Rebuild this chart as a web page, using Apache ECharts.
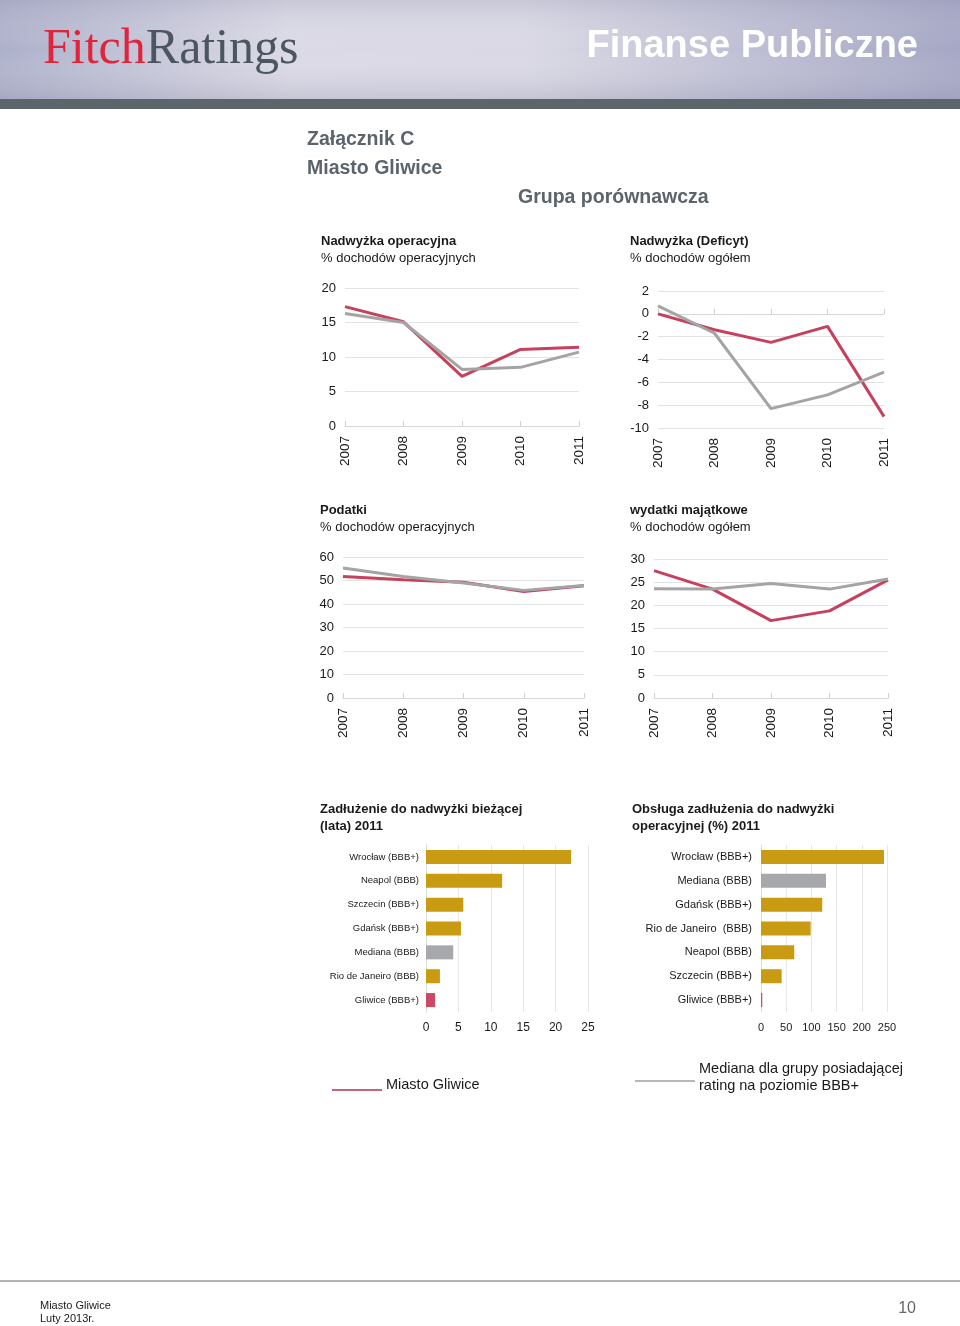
<!DOCTYPE html>
<html>
<head>
<meta charset="utf-8">
<script src="https://cdn.jsdelivr.net/npm/echarts@6/dist/echarts.min.js"></script>
<style>
html,body{margin:0;padding:0;background:#fff;}
#c{width:960px;height:1326px;}
</style>
</head>
<body>
<div id="c"></div>
<script>
// ---------- data ----------
var years = ['2007', '2008', '2009', '2010', '2011'];

var opSurplusGliwice = [17.3, 15.1, 7.2, 11.1, 11.4];
var opSurplusMedian  = [16.3, 15.0, 8.2, 8.5, 10.7];

var balanceGliwice = [0.0, -1.4, -2.5, -1.1, -9.0];
var balanceMedian  = [0.7, -1.7, -8.3, -7.1, -5.1];

var taxesGliwice = [51.7, 50.3, 49.3, 45.3, 47.8];
var taxesMedian  = [55.3, 51.7, 48.9, 45.8, 47.9];

var capexGliwice = [27.5, 23.5, 16.7, 18.8, 25.5];
var capexMedian  = [23.6, 23.5, 24.7, 23.5, 25.7];

var debtCats = ['Wrocław (BBB+)', 'Neapol (BBB)', 'Szczecin (BBB+)', 'Gdańsk (BBB+)', 'Mediana (BBB)', 'Rio de Janeiro (BBB)', 'Gliwice (BBB+)'];
var debtValues = [22.4, 11.75, 5.75, 5.4, 4.2, 2.15, 1.4];

var serviceCats = ['Wrocław (BBB+)', 'Mediana (BBB)', 'Gdańsk (BBB+)', 'Rio de Janeiro  (BBB)', 'Neapol (BBB)', 'Szczecin (BBB+)', 'Gliwice (BBB+)'];
var serviceValues = [244, 129, 121.5, 98.5, 66, 41, 2.5];

// ---------- styles ----------
var FONT = '"Liberation Sans", Arial, Helvetica, sans-serif';
var RED = '#c5415d';
var GRAY = '#a4a4a4';
var GOLD = '#c99b12';
var BARGRAY = '#a6a8ab';
var GRID_LINE = '#e3e3e3';

function barColor(name) {
  if (name.indexOf('Gliwice') === 0) return '#cc4863';
  if (name.indexOf('Mediana') === 0) return BARGRAY;
  return GOLD;
}

var lineGrids = [
  {left: 345, top: 288, width: 234, height: 138},
  {left: 658, top: 291, width: 226, height: 137},
  {left: 343, top: 557, width: 241, height: 141},
  {left: 654, top: 559, width: 234, height: 139}
];
var lineAxes = [
  {min: 0, max: 20, interval: 5},
  {min: -10, max: 2, interval: 2},
  {min: 0, max: 60, interval: 10},
  {min: 0, max: 30, interval: 5}
];
var lineData = [
  [opSurplusGliwice, opSurplusMedian],
  [balanceGliwice, balanceMedian],
  [taxesGliwice, taxesMedian],
  [capexGliwice, capexMedian]
];

var grids = [], xAxes = [], yAxes = [], series = [];

lineGrids.forEach(function (g, i) {
  grids.push(g);
  xAxes.push({
    type: 'category', gridIndex: i, data: years, boundaryGap: false,
    axisLine: {show: false, onZero: false}, axisTick: {show: false},
    axisLabel: {rotate: 90, fontSize: 13.5, color: '#1a1a1a', fontFamily: FONT, margin: 10},
    splitLine: {show: false}
  });
  xAxes.push({
    type: 'category', gridIndex: i, data: years, boundaryGap: false,
    position: 'bottom',
    axisLine: {show: true, onZero: true, lineStyle: {color: '#d6d6d6', width: 1}},
    axisTick: {show: true, inside: true, length: 5, alignWithLabel: true, lineStyle: {color: '#cfcfcf'}},
    axisLabel: {show: false}, splitLine: {show: false}
  });
  yAxes.push({
    type: 'value', gridIndex: i, min: lineAxes[i].min, max: lineAxes[i].max, interval: lineAxes[i].interval,
    axisLine: {show: false}, axisTick: {show: false},
    axisLabel: {fontSize: 13, color: '#1a1a1a', fontFamily: FONT, margin: 9},
    splitLine: {show: true, lineStyle: {color: GRID_LINE, width: 1}}
  });
  series.push({
    type: 'line', xAxisIndex: i * 2, yAxisIndex: i, data: lineData[i][0],
    symbol: 'none', lineStyle: {color: RED, width: 3}, z: 3, silent: true
  });
  series.push({
    type: 'line', xAxisIndex: i * 2, yAxisIndex: i, data: lineData[i][1],
    symbol: 'none', lineStyle: {color: GRAY, width: 3}, z: 4, silent: true
  });
});

var barDefs = [
  {grid: {left: 426, top: 845, width: 162, height: 167}, cats: debtCats, vals: debtValues, max: 25, interval: 5, labelSize: 9.5, labelMargin: 7, tickSize: 12},
  {grid: {left: 761, top: 845, width: 126, height: 167}, cats: serviceCats, vals: serviceValues, max: 250, interval: 50, labelSize: 11, labelMargin: 9, tickSize: 11}
];

barDefs.forEach(function (b) {
  var gi = grids.length;
  grids.push(b.grid);
  xAxes.push({
    type: 'value', gridIndex: gi, min: 0, max: b.max, interval: b.interval,
    axisLine: {show: false}, axisTick: {show: false},
    axisLabel: {fontSize: b.tickSize, color: '#1a1a1a', fontFamily: FONT, margin: 10},
    splitLine: {show: true, lineStyle: {color: '#e6e6e6'}}
  });
  yAxes.push({
    type: 'category', gridIndex: gi, data: b.cats, inverse: true,
    axisLine: {show: true, lineStyle: {color: '#dcdcdc'}}, axisTick: {show: false},
    axisLabel: {fontSize: b.labelSize, color: '#1a1a1a', fontFamily: FONT, margin: b.labelMargin}
  });
  series.push({
    type: 'bar', xAxisIndex: xAxes.length - 1, yAxisIndex: yAxes.length - 1,
    data: b.vals, barWidth: 14, silent: true,
    itemStyle: {color: function (p) { return barColor(p.name); }}
  });
});

function txt(x, y, text, font, fill, align) {
  return {type: 'text', x: x, y: y, silent: true,
    style: {text: text, font: font, fill: fill || '#1a1a1a', align: align || 'left', verticalAlign: 'middle'}};
}

var graphics = [
  {type: 'rect', shape: {x: 0, y: 0, width: 960, height: 100}, silent: true,
    style: {fill: new echarts.graphic.LinearGradient(0, 0, 1, 0, [
      {offset: 0, color: '#adb0ca'},
      {offset: 0.3, color: '#dad9e5'},
      {offset: 0.55, color: '#d9d8e4'},
      {offset: 1, color: '#a4a6c4'}
    ])}},
  {type: 'rect', shape: {x: 0, y: 0, width: 960, height: 100}, silent: true,
    style: {fill: new echarts.graphic.LinearGradient(0, 0, 0, 1, [
      {offset: 0, color: 'rgba(150,150,180,0.25)'},
      {offset: 0.5, color: 'rgba(255,255,255,0)'},
      {offset: 1, color: 'rgba(150,150,175,0.3)'}
    ])}},
  {type: 'rect', shape: {x: 0, y: 99, width: 960, height: 10}, silent: true, style: {fill: '#5c6569'}},
  {type: 'text', x: 43, y: 50, silent: true, style: {
    text: '{a|Fitch}{b|Ratings}', verticalAlign: 'middle', align: 'left',
    rich: {
      a: {font: '50px "Liberation Serif", "Times New Roman", serif', fill: '#e0243c'},
      b: {font: '50px "Liberation Serif", "Times New Roman", serif', fill: '#4c5660'}
    }}},
  txt(918, 47, 'Finanse Publiczne', 'bold 38px ' + FONT, '#ffffff', 'right'),
  txt(307, 140, 'Załącznik C', 'bold 19.5px ' + FONT, '#5b636c'),
  txt(307, 169, 'Miasto Gliwice', 'bold 19.5px ' + FONT, '#5b636c'),
  txt(518, 198, 'Grupa porównawcza', 'bold 19.5px ' + FONT, '#5b636c'),
  txt(321, 241, 'Nadwyżka operacyjna', 'bold 13px ' + FONT),
  txt(321, 258, '% dochodów operacyjnych', '13px ' + FONT),
  txt(630, 241, 'Nadwyżka (Deficyt)', 'bold 13px ' + FONT),
  txt(630, 258, '% dochodów ogółem', '13px ' + FONT),
  txt(320, 510, 'Podatki', 'bold 13px ' + FONT),
  txt(320, 527, '% dochodów operacyjnych', '13px ' + FONT),
  txt(630, 510, 'wydatki majątkowe', 'bold 13px ' + FONT),
  txt(630, 527, '% dochodów ogółem', '13px ' + FONT),
  txt(320, 809, 'Zadłużenie do nadwyżki bieżącej', 'bold 13px ' + FONT),
  txt(320, 826, '(lata) 2011', 'bold 13px ' + FONT),
  txt(632, 809, 'Obsługa zadłużenia do nadwyżki', 'bold 13px ' + FONT),
  txt(632, 826, 'operacyjnej (%) 2011', 'bold 13px ' + FONT),
  {type: 'line', silent: true, shape: {x1: 332, y1: 1090, x2: 382, y2: 1090}, style: {stroke: '#c9637c', lineWidth: 2}},
  txt(386, 1085, 'Miasto Gliwice', '14.5px ' + FONT),
  {type: 'line', silent: true, shape: {x1: 635, y1: 1081, x2: 695, y2: 1081}, style: {stroke: '#a0a0a0', lineWidth: 1.5}},
  txt(699, 1069, 'Mediana dla grupy posiadającej', '14.5px ' + FONT),
  txt(699, 1086, 'rating na poziomie BBB+', '14.5px ' + FONT),
  {type: 'line', silent: true, shape: {x1: 0, y1: 1281, x2: 960, y2: 1281}, style: {stroke: '#9a9a9a', lineWidth: 1.5}},
  txt(40, 1306, 'Miasto Gliwice', '11px ' + FONT),
  txt(40, 1319, 'Luty 2013r.', '11px ' + FONT),
  txt(916, 1309, '10', '16px ' + FONT, '#666666', 'right')
];

var chart = echarts.init(document.getElementById('c'), null, {renderer: 'canvas'});
chart.setOption({
  animation: false,
  backgroundColor: '#ffffff',
  textStyle: {fontFamily: FONT},
  grid: grids,
  xAxis: xAxes,
  yAxis: yAxes,
  series: series,
  graphic: graphics
});
</script>
</body>
</html>
